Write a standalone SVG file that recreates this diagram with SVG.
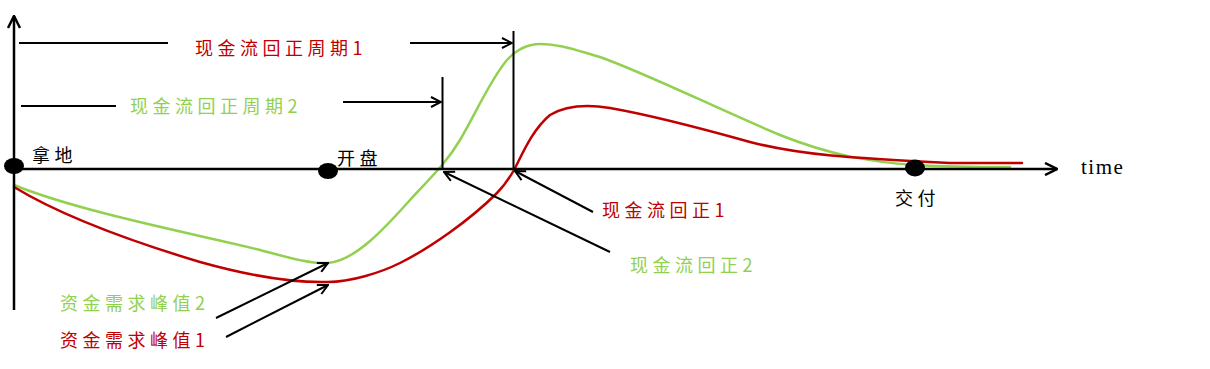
<svg xmlns="http://www.w3.org/2000/svg" width="1210" height="369" viewBox="0 0 1210 369">
<style>
.ax{stroke:#000;stroke-width:2.5;fill:none}
.ln{stroke:#000;stroke-width:2;fill:none}
.cv{fill:none;stroke-width:2.5;stroke-linecap:round}
.red{fill:#c00000}
.grn{fill:#92d050}
.cjk{font-family:"Noto Sans CJK SC","Noto Sans",sans-serif;font-size:18px;letter-spacing:4.5px}
.blk{fill:#000}
</style>
<defs>
<marker id="ah" viewBox="0 0 12 12" refX="11" refY="6" markerWidth="12" markerHeight="12" markerUnits="userSpaceOnUse" orient="auto">
<path d="M1,1 L11,6 L1,11" fill="none" stroke="#000" stroke-width="2"/>
</marker>
<marker id="ahb" viewBox="0 0 14 14" refX="13" refY="7" markerWidth="14" markerHeight="14" markerUnits="userSpaceOnUse" orient="auto">
<path d="M1,1 L13,7 L1,13" fill="none" stroke="#000" stroke-width="2.5"/>
</marker>
</defs>
<g id="curves">
<path id="green-curve" class="cv" stroke="#92d050" d="M14,185 C80,212 200,235 260,250 C290,258 310,264 328,263 C355,261 385,228 410,200 C430,178 445,165 460,140 C475,115 490,80 507,60 C518,48 528,44 540,44 C560,44 575,50 600,57 C650,75 720,110 780,135 C830,155 870,162 915,165 C950,167 985,167 1010,167"/>
<path id="red-curve" class="cv" stroke="#c00000" d="M14,187 C60,215 120,238 200,262 C250,276 290,283 328,282 C350,282 380,273 400,263 C430,248 470,220 497,193 C505,185 510,177 514,170 C522,155 532,130 550,115 C565,106 585,104 610,108 C650,115 700,128 750,142 C800,155 850,158 950,163 L1022,163"/>
</g>
<g id="connectors">
<line class="ax" x1="14" y1="310" x2="14" y2="16" marker-end="url(#ahb)"/>
<line class="ax" x1="14" y1="169" x2="1057" y2="169" marker-end="url(#ahb)"/>
<line class="ln" x1="19" y1="43" x2="168" y2="43"/>
<line class="ln" x1="410" y1="43" x2="512" y2="43" marker-end="url(#ah)"/>
<line class="ln" x1="513.5" y1="31" x2="513.5" y2="170"/>
<line class="ln" x1="21" y1="106" x2="116" y2="106"/>
<line class="ln" x1="343" y1="102" x2="441" y2="102" marker-end="url(#ah)"/>
<line class="ln" x1="442.5" y1="77" x2="442.5" y2="168"/>
<line class="ln" x1="593" y1="212" x2="515" y2="171" marker-end="url(#ah)"/>
<line class="ln" x1="610" y1="252" x2="444" y2="172" marker-end="url(#ah)"/>
<line class="ln" x1="216" y1="318" x2="328" y2="263" marker-end="url(#ah)"/>
<line class="ln" x1="226" y1="337" x2="328" y2="285" marker-end="url(#ah)"/>
</g>
<g id="node-nadi"><ellipse cx="14" cy="166" rx="10" ry="8" fill="#000"/><text class="cjk blk" x="32" y="162">拿地</text></g>
<g id="node-kaipan"><ellipse cx="328" cy="171" rx="10" ry="8" fill="#000"/><text class="cjk blk" x="337" y="165">开盘</text></g>
<g id="node-jiaofu"><ellipse cx="915" cy="168" rx="10" ry="8.5" fill="#000"/><text class="cjk blk" x="895" y="205">交付</text></g>
<g id="label-time"><text x="1081" y="174" font-family="Liberation Serif, serif" font-size="21" letter-spacing="1.5" fill="#000">time</text></g>
<g id="label-period1"><text class="cjk red" x="195" y="55">现金流回正周期1</text></g>
<g id="label-period2"><text class="cjk grn" x="130" y="113">现金流回正周期2</text></g>
<g id="label-pos1"><text class="cjk red" x="602" y="217">现金流回正1</text></g>
<g id="label-pos2"><text class="cjk grn" x="630" y="272">现金流回正2</text></g>
<g id="label-peak2"><text class="cjk grn" x="60" y="310">资金需求峰值2</text></g>
<g id="label-peak1"><text class="cjk red" x="60" y="347">资金需求峰值1</text></g>
</svg>
